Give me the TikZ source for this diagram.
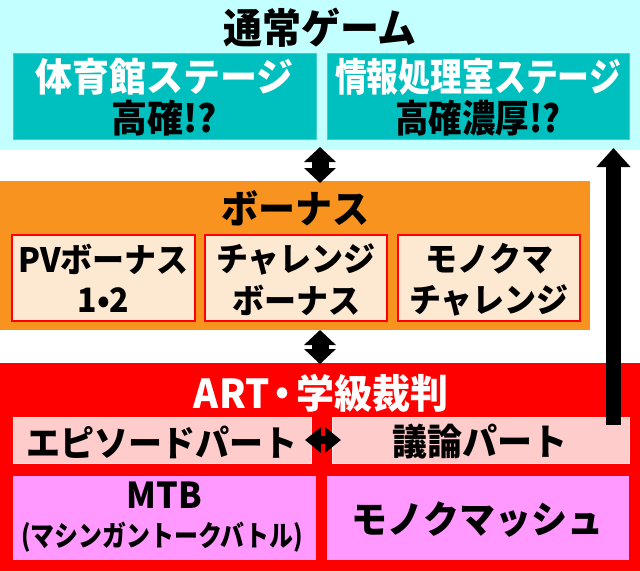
\documentclass[tikz,border=0pt]{standalone}
\usepackage{fontspec}
\usepackage{graphicx}
\setmainfont{Noto Sans CJK JP}
\usetikzlibrary{arrows.meta}
\definecolor{cyanbg}{HTML}{C4FFFF}
\definecolor{tealbox}{HTML}{00BFBF}
\definecolor{tealedge}{HTML}{40CFCF}
\definecolor{orangebg}{HTML}{F7931E}
\definecolor{creambox}{HTML}{FDE9D2}
\definecolor{redbg}{HTML}{FF0000}
\definecolor{pinkbox}{HTML}{FFCCCC}
\definecolor{pinkedge}{HTML}{FFE6E6}
\definecolor{magbox}{HTML}{FF99FF}
\newcommand{\fs}[1]{\fontsize{#1}{#1}\selectfont\bfseries}
\tikzset{
  region/.style={anchor=north west, inner sep=0pt, outer sep=0pt},
  box/.style={anchor=north west, inner sep=0pt, outer sep=0pt},
  lbl/.style={inner sep=0pt, outer sep=0pt, anchor=center},
  dblarrow/.style={line width=17pt, {Triangle[width=31pt,length=15pt]}-{Triangle[width=31pt,length=15pt]}},
}
\begin{document}
\begin{tikzpicture}[x=1pt,y=-1pt]
\useasboundingbox (0,0) rectangle (640,571);
% regions
\node[region, fill=cyanbg, minimum width=640pt, minimum height=150pt] (normal) at (0,0) {};
\node[region, fill=orangebg, minimum width=590pt, minimum height=149pt] (bonus) at (0,181) {};
\node[region, fill=redbg, minimum width=640pt, minimum height=208pt] (art) at (0,363) {};
% titles
\node[lbl] (tnormal) at (320,28) {\scalebox{1}[1.05]{\fs{39}通常ゲーム}};
\node[lbl] (tbonus) at (295,208) {\scalebox{1}[1.05]{\fs{37}ボーナス}};
\node[lbl, text=white] (tart) at (321,393) {\scalebox{1}[1.05]{\fs{38}ART\hspace{-0.15em}・\hspace{-0.15em}学級裁判}};
% teal boxes
\node[box, fill=tealbox, draw=tealedge, line width=1pt, minimum width=303pt, minimum height=86pt] (gym) at (13,53) {};
\node[box, fill=tealbox, draw=tealedge, line width=1pt, minimum width=302pt, minimum height=86pt] (info) at (327,53) {};
\node[lbl, text=white] (gym1) at (164.5,77) {\scalebox{1}[1.05]{\fs{37}体育館ステージ}};
\node[lbl] (gym2) at (164.5,118) {\scalebox{1}[1.05]{\fs{36}高確!?}};
\node[lbl, text=white] (info1) at (478,77) {\scalebox{0.86}[1.05]{\fs{37}情報処理室ステージ}};
\node[lbl] (info2) at (478,118) {\scalebox{0.93}[1.05]{\fs{36}高確濃厚!?}};
% bonus sub boxes
\node[box, fill=creambox, draw=redbg, line width=2pt, minimum width=183pt, minimum height=86pt] (pv) at (12,235) {};
\node[box, fill=creambox, draw=redbg, line width=2pt, minimum width=182pt, minimum height=86pt] (cb) at (205,235) {};
\node[box, fill=creambox, draw=redbg, line width=2pt, minimum width=182pt, minimum height=86pt] (mc) at (398,235) {};
\node[lbl] (pv1) at (103.5,259) {\scalebox{1}[1.05]{\fs{32}PVボーナス}};
\node[lbl] (pv2) at (103.5,300) {\scalebox{1}[1.05]{\fs{32}1•2}};
\node[lbl] (cb1) at (296,259) {\scalebox{1}[1.05]{\fs{32}チャレンジ}};
\node[lbl] (cb2) at (296,300) {\scalebox{1}[1.05]{\fs{32}ボーナス}};
\node[lbl] (mc1) at (489,259) {\scalebox{1}[1.05]{\fs{32}モノクマ}};
\node[lbl] (mc2) at (489,300) {\scalebox{1}[1.05]{\fs{32}チャレンジ}};
% ART boxes
\node[box, fill=pinkbox, draw=pinkedge, line width=1pt, minimum width=298pt, minimum height=46pt] (ep) at (13,417) {};
\node[box, fill=pinkbox, draw=pinkedge, line width=1pt, minimum width=297pt, minimum height=46pt] (gi) at (332,417) {};
\node[lbl] (ep1) at (162,442) {\scalebox{1}[1.05]{\fs{34}エピソードパート}};
\node[lbl] (gi1) at (480,442) {\scalebox{1}[1.05]{\fs{35}議論パート}};
\node[box, fill=magbox, minimum width=303pt, minimum height=84pt] (mtb) at (13,476) {};
\node[box, fill=magbox, minimum width=302pt, minimum height=84pt] (mm) at (327,476) {};
\node[lbl] (mtb1) at (164.5,495) {\scalebox{1}[1.05]{\fs{34}MTB}};
\node[lbl] (mtb2) at (162,537) {\scalebox{0.92}[1.1]{\fs{26}(マシンガントークバトル)}};
\node[lbl] (mm1) at (477,520) {\scalebox{1}[1.05]{\fs{36}モノクマッシュ}};
% connectors
\draw[dblarrow] ([yshift=3pt]normal.south) -- ([yshift=-2pt]normal.south |- bonus.north);
\draw[dblarrow] (normal.south |- bonus.south) -- ([yshift=-1pt]normal.south |- art.north);
\draw[line width=8pt, {Triangle[width=25pt,length=16pt]}-{Triangle[width=25pt,length=16pt]}] ([xshift=-6pt]ep.east) -- ([xshift=9pt]gi.west);
\coordinate (artstart) at (613.5,425);
\draw[line width=15pt, -{Triangle[width=33pt,length=19pt]}] (artstart) -- ([yshift=2pt]artstart |- normal.south);
\end{tikzpicture}
\end{document}
